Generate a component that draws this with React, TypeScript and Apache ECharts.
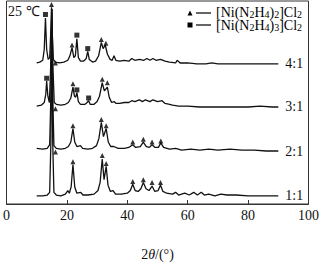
import React, { useEffect, useRef } from "react";
import * as echarts from "echarts";

const ratios = ["1:1", "2:1", "3:1", "4:1"];
const baselines = [9, 61, 110, 157];
const xTicks = [0, 20, 40, 60, 80, 100];

const pattern11: number[][] = [
  [10, 0], [12, 0], [13.5, 1], [14.3, 4], [14.7, 60], [15, 208], [15.3, 60], [15.7, 4], [16.5, 1], [18, 0],
  [19.5, 2], [20.3, 6], [20.8, 3], [21.4, 10], [22, 35], [22.6, 10], [23.3, 3], [24.6, 4], [25.3, 1], [27, 1],
  [29, 2], [30.3, 6], [31, 15], [31.7, 41], [32.3, 18], [33, 33], [33.6, 12], [34.4, 5], [35.3, 6], [36.1, 2],
  [38, 2], [40, 3], [41, 6], [41.8, 13], [42.6, 6], [43.6, 5], [44.5, 8], [45.3, 15], [46.2, 8], [47.2, 6],
  [48.2, 11], [49.1, 5], [50.2, 6], [51, 12], [51.8, 5], [53, 3], [55, 2], [56, 4], [57, 1], [59, 3],
  [60.5, 1], [62, 4], [63.2, 1], [64.5, 4], [65.5, 1], [67, 2], [69, 0], [71, 2], [73, 1], [76, 1],
  [80, 0], [84, 0], [88, 0], [90, 0],
];
const pattern21: number[][] = [
  [10, 1], [12, 0], [13.5, 1], [14.3, 5], [14.7, 60], [15, 156], [15.3, 60], [15.7, 4], [16.5, 1], [18, 0],
  [19.5, 1], [20.5, 3], [21.3, 8], [22, 23], [22.6, 8], [23.3, 3], [24.5, 4], [25.2, 1], [27, 0], [28.5, 1],
  [29.8, 4], [30.6, 12], [31.4, 30], [32.1, 14], [33, 23], [33.7, 8], [34.5, 3], [35.5, 3], [37, 1], [39, 1],
  [40.5, 2], [41.8, 5], [42.8, 2], [44.3, 3], [45.3, 8], [46.3, 3], [47.3, 2], [48.2, 5], [49.2, 2], [50.3, 2],
  [51.1, 7], [52, 2], [54, 0], [56, 1], [58, -1], [61, 0], [64, -1], [67, 0], [70, -1], [74, 0],
  [78, -1], [82, -1], [86, -2], [90, -2],
];
const pattern31: number[][] = [
  [10, -1], [11.5, 0], [12.5, 3], [13, 12], [13.3, 27], [13.7, 10], [14.2, 3], [14.6, 40], [15, 107], [15.4, 40],
  [15.8, 3], [16.5, 1], [18, 0], [19.5, 1], [20.5, 3], [21.3, 8], [22, 20], [22.5, 10], [22.9, 9], [23.3, 14],
  [23.8, 4], [24.5, 1], [26, 1], [26.7, 3], [27.2, 5], [27.7, 1], [29, 1], [30, 4], [30.8, 10], [31.7, 25],
  [32.4, 16], [33.4, 20], [34, 9], [34.8, 3], [35.6, 4], [36.3, 2], [37.5, 2], [39, 3], [40.5, 3], [41.5, 5],
  [42.5, 4], [44, 6], [45, 4], [46, 6], [47.5, 4], [48.5, 6], [50, 4], [51.5, 5], [52.5, 2], [54, 1],
  [55, 0], [57, -1], [60, -1], [64, -2], [68, -2], [72, -2], [76, -2], [80, -2], [84, -1], [88, -2], [90, -2],
];
const pattern41: number[][] = [
  [10, 0], [11, 1], [12, 3], [12.5, 15], [12.9, 50], [13.3, 15], [13.8, 4], [14.3, 6], [14.6, 30], [14.9, 62],
  [15.2, 30], [15.5, 4], [16.2, 1], [17.5, 0], [19, 1], [20.3, 3], [21, 8], [21.7, 17], [22.3, 6], [22.8, 8],
  [23.3, 27], [23.8, 6], [24.5, 2], [25.5, 2], [26.4, 5], [26.9, 13], [27.4, 4], [28.5, 1], [29.5, 2], [30.5, 8],
  [31.4, 23], [32, 16], [32.7, 20], [33.4, 10], [34.3, 4], [35, 3], [35.6, 8], [36.2, 3], [37.5, 2], [39, 3],
  [40.5, 2], [41.5, 5], [42.5, 3], [44, 4], [45.5, 3], [46.5, 5], [47.5, 3], [48.5, 5], [49.5, 3], [51, 4],
  [52.5, 2], [54, 1], [56, 0], [56.5, 3], [57.5, 0], [60, 0], [63, -1], [66, -1], [68, 0], [70, -1],
  [74, -1], [78, -1], [82, -1], [86, -1], [90, -1],
];
const patterns = [pattern11, pattern21, pattern31, pattern41];

// marker positions: [2θ, height above baseline]
const triangles11: number[][] = [[16.2, 49], [22, 38], [31.7, 45], [33, 36], [41.8, 16], [45.3, 18], [48.2, 15], [51, 15]];
const triangles21: number[][] = [[16.2, 45], [22, 26], [31.4, 33], [33, 26], [41.8, 8], [45.3, 11], [48.2, 8], [51.1, 9]];
const triangles31: number[][] = [[16.2, 47], [22, 24], [31.7, 29], [33.4, 25]];
const triangles41: number[][] = [[14.9, 65], [21.7, 20], [31.4, 26], [32.9, 22]];
const trianglesAll = [triangles11, triangles21, triangles31, triangles41];
const squares31: number[][] = [[13.3, 30], [23.3, 17], [27.2, 8]];
const squares41: number[][] = [[12.9, 54], [23.3, 31], [26.9, 16]];
const squaresAll = [[], [], squares31, squares41];

const FONT = "'Liberation Serif', 'Times New Roman', serif";

export default function App() {
  const ref = useRef<HTMLDivElement>(null);
  useEffect(() => {
    document.body.style.margin = "0";
    if (!ref.current) return;
    const chart = echarts.init(ref.current, undefined, { renderer: "svg" });
    const lineSeries = patterns.map((p, i) => ({
      type: "line",
      name: ratios[i],
      data: p.map(([x, h]) => [x, baselines[i] + h]),
      showSymbol: false,
      symbol: "none",
      lineStyle: { color: "#111", width: 1.3 },
      z: 2,
      endLabel: {
        show: true,
        formatter: ratios[i],
        color: "#111",
        fontSize: 14,
        fontFamily: FONT,
        distance: 7,
      },
    }));
    const triData: number[][] = [];
    trianglesAll.forEach((arr, i) => arr.forEach(([x, h]) => triData.push([x, baselines[i] + h])));
    const sqData: number[][] = [];
    squaresAll.forEach((arr, i) => arr.forEach(([x, h]) => sqData.push([x, baselines[i] + h])));

    const sub = { fontSize: 10, lineHeight: 3, verticalAlign: "bottom", fontFamily: FONT, color: "#111" };
    const main = { fontSize: 14, lineHeight: 13, verticalAlign: "middle", fontFamily: FONT, color: "#111" };
    const legendText = (n: string) => `{a|[Ni(N}{s|2}{a|H}{s|4}{a|)}{s|${n}}{a|]Cl}{s|2}`;

    chart.setOption({
      animation: false,
      grid: { left: 3, right: 9, top: 1, bottom: 39, show: true, borderColor: "#333", borderWidth: 1 },
      xAxis: {
        type: "value",
        min: 0,
        max: 100,
        interval: 20,
        axisLine: { show: true, lineStyle: { color: "#333", width: 1 } },
        axisTick: { show: true, inside: true, length: 4, lineStyle: { color: "#333" } },
        axisLabel: {
          margin: 4,
          fontSize: 14,
          color: "#111",
          fontFamily: FONT,
          formatter: (v: number) => (xTicks.includes(v) ? String(v) : ""),
        },
        splitLine: { show: false },
        name: "{n|2}{i|θ}{n|/(°)}",
        nameLocation: "middle",
        nameGap: 43,
        nameTextStyle: {
          rich: {
            n: { fontSize: 14, fontFamily: FONT, color: "#111" },
            i: { fontSize: 14, fontFamily: FONT, fontStyle: "italic", color: "#111" },
          },
        },
      },
      yAxis: { type: "value", min: 0, max: 226, show: false },
      series: [
        ...lineSeries,
        {
          type: "scatter",
          name: "tri",
          data: triData,
          symbol: "triangle",
          symbolSize: [5, 5],
          itemStyle: { color: "#000" },
          z: 3,
        },
        {
          type: "scatter",
          name: "sq",
          data: sqData,
          symbol: "rect",
          symbolSize: [5, 5],
          itemStyle: { color: "#000" },
          z: 3,
        },
      ],
      graphic: [
        { type: "text", left: 8, top: 4, style: { text: "25 ℃", fontSize: 14, fontFamily: FONT, fill: "#111" } },
        { type: "polygon", shape: { points: [[190, 10.5], [187.5, 15.5], [192.5, 15.5]] }, style: { fill: "#000" } },
        { type: "line", shape: { x1: 196, y1: 13, x2: 211, y2: 13 }, style: { stroke: "#111", lineWidth: 1.3 } },
        { type: "text", x: 216, y: 6, style: { text: legendText("2"), rich: { a: main, s: sub } } },
        { type: "rect", shape: { x: 187.5, y: 22.5, width: 5, height: 5 }, style: { fill: "#000" } },
        { type: "line", shape: { x1: 196, y1: 25, x2: 211, y2: 25 }, style: { stroke: "#111", lineWidth: 1.3 } },
        { type: "text", x: 216, y: 19, style: { text: legendText("3"), rich: { a: main, s: sub } } },
      ],
    });
    return () => chart.dispose();
  }, []);
  return <div ref={ref} style={{ width: 322, height: 266 }} />;
}
